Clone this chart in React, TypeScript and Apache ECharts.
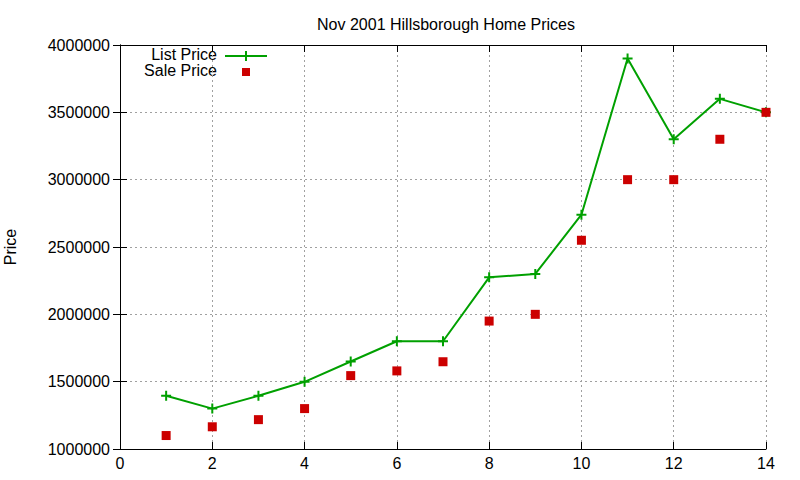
import React, { useEffect, useRef } from 'react';
import * as echarts from 'echarts';

const xValues = [1, 2, 3, 4, 5, 6, 7, 8, 9, 10, 11, 12, 13, 14];
const listPrice = [1395000, 1300000, 1395000, 1499000, 1650000, 1800000, 1800000, 2275000, 2300000, 2740000, 3900000, 3300000, 3600000, 3500000];
const salePrice = [1100000, 1165000, 1218000, 1300000, 1545000, 1580000, 1648000, 1950000, 2000000, 2550000, 3000000, 3000000, 3300000, 3500000];

const green = '#00a000';
const red = '#cc0000';
const font = 'Liberation Sans, Arial, sans-serif';
const plusPath = 'path://M4,0H6V4H10V6H6V10H4V6H0V4H4Z';

const App = () => {
  const chartRef = useRef<HTMLDivElement>(null);

  useEffect(() => {
    document.body.style.margin = '0';
    if (!chartRef.current) return;
    const chart = echarts.init(chartRef.current, null, { renderer: 'svg' });

    const tickStyle = { show: true, inside: true, length: 7, lineStyle: { color: '#000', width: 1 } };
    const lineStyle = { show: true, lineStyle: { color: '#000', width: 1 } };

    const option = {
      animation: false,
      backgroundColor: '#fff',
      textStyle: { fontFamily: font },
      title: {
        text: 'Nov 2001 Hillsborough Home Prices',
        left: 441,
        top: 11,
        textAlign: 'center',
        textStyle: { fontFamily: font, fontSize: 16, fontWeight: 'normal', color: '#000' }
      },
      grid: { left: 120, right: 34, top: 45, bottom: 31, outerBoundsMode: 'none', containLabel: false },
      xAxis: [
        {
          type: 'value',
          min: 0,
          max: 14,
          interval: 2,
          position: 'bottom',
          axisLine: lineStyle,
          axisTick: tickStyle,
          axisLabel: { color: '#000', fontSize: 16, margin: 6, fontFamily: font },
          splitLine: { show: true, lineStyle: { color: '#a0a0a0', type: [2, 3], width: 1 } }
        },
        {
          type: 'value',
          min: 0,
          max: 14,
          interval: 2,
          position: 'top',
          axisLine: lineStyle,
          axisTick: tickStyle,
          axisLabel: { show: false },
          splitLine: { show: false }
        }
      ],
      yAxis: [
        {
          type: 'value',
          min: 1000000,
          max: 4000000,
          interval: 500000,
          position: 'left',
          name: 'Price',
          nameLocation: 'middle',
          nameGap: 102,
          nameRotate: 90,
          nameTextStyle: { color: '#000', fontSize: 16, fontFamily: font },
          axisLine: lineStyle,
          axisTick: tickStyle,
          axisLabel: { color: '#000', fontSize: 16, margin: 10, fontFamily: font, formatter: (v: number) => String(v) },
          splitLine: { show: true, lineStyle: { color: '#a0a0a0', type: [2, 3], width: 1 } }
        },
        {
          type: 'value',
          min: 1000000,
          max: 4000000,
          interval: 500000,
          position: 'right',
          axisLine: lineStyle,
          axisTick: tickStyle,
          axisLabel: { show: false },
          splitLine: { show: false }
        }
      ],
      graphic: [
        { type: 'text', right: 800 - 217, top: 46, style: { text: 'List Price', font: `16px ${font}`, fill: '#000', textAlign: 'right' } },
        { type: 'text', right: 800 - 217, top: 62, style: { text: 'Sale Price', font: `16px ${font}`, fill: '#000', textAlign: 'right' } },
        { type: 'line', shape: { x1: 225, y1: 56, x2: 267, y2: 56 }, style: { stroke: green, lineWidth: 2 } },
        { type: 'line', shape: { x1: 246, y1: 51, x2: 246, y2: 61 }, style: { stroke: green, lineWidth: 2 } },
        { type: 'rect', shape: { x: 242, y: 68, width: 8, height: 8 }, style: { fill: red } }
      ],
      series: [
        {
          name: 'List Price',
          type: 'line',
          data: xValues.map((x, i) => [x, listPrice[i]]),
          symbol: plusPath,
          symbolSize: 10,
          showAllSymbol: true,
          lineStyle: { color: green, width: 2 },
          itemStyle: { color: green },
          z: 3
        },
        {
          name: 'Sale Price',
          type: 'scatter',
          data: xValues.map((x, i) => [x, salePrice[i]]),
          symbol: 'rect',
          symbolSize: 9,
          itemStyle: { color: red, opacity: 1 },
          z: 4
        }
      ]
    };

    chart.setOption(option);
    return () => chart.dispose();
  }, []);

  return <div ref={chartRef} style={{ width: 800, height: 480 }} />;
};

export default App;
